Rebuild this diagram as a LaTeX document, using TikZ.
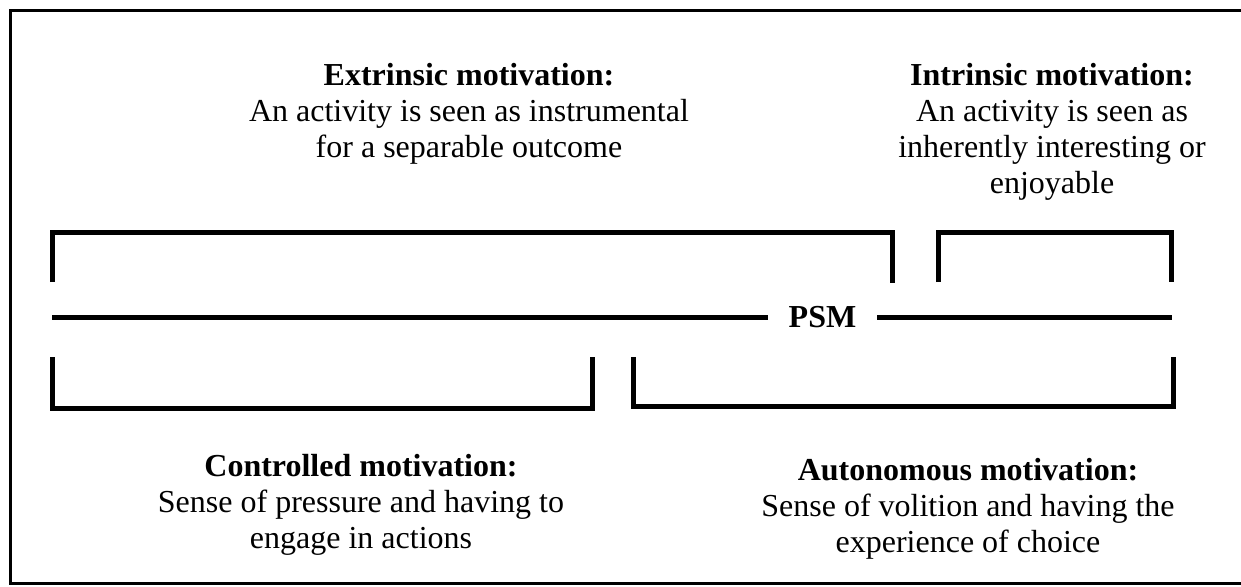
\documentclass[tikz,border=0pt]{standalone}
\usepackage{fontspec}
\setmainfont{Liberation Serif}
\usepackage{tikz}
\usetikzlibrary{positioning}
\tikzset{bar/.style = {line width = 2.5pt, line join = miter}}
\tikzset{frame/.style = {line width = 1.6pt, line join = miter}}
\tikzset{desc/.style = {align = center, inner sep = 0, anchor = base, font = \fontsize{16}{18}\selectfont}}
\tikzset{axis/.style = {inner xsep = 10.4pt, inner ysep = 0, font = \fontsize{16}{18}\selectfont\bfseries}}

\begin{document}
\begin{tikzpicture}[x = 0.5pt, y = -0.5pt]

    \useasboundingbox (0, 0) rectangle (1241, 586);
    \draw [frame] (1241, 10.5) -- (10.5, 10.5) -- (10.5, 583.5) -- (1241, 583.5);

    \node [desc] (extr) at (469, 157) {\textbf{Extrinsic motivation:}\\An activity is seen as instrumental\\for a separable outcome};
    \node [desc] (intr) at (1052, 193) {\textbf{Intrinsic motivation:}\\An activity is seen as\\inherently interesting or\\enjoyable};
    \node [desc] (ctrl) at (361, 548) {\textbf{Controlled motivation:}\\Sense of pressure and having to\\engage in actions};
    \node [desc] (auto) at (968, 552) {\textbf{Autonomous motivation:}\\Sense of volition and having the\\experience of choice};

    \coordinate (psmL) at (52, 317);
    \coordinate (psmR) at (1172, 317);
    \node [axis] (psm) at (822.5, 317) {PSM};

    \draw [bar] (psmL) -- (psm.west);
    \draw [bar] (psm.east) -- (psmR);

    \draw [bar] (52, 282) -- (52, 232) -- (892, 232) -- (892, 283);
    \draw [bar] (938, 282) -- (938, 232) -- (1171, 232) -- (1171, 282);
    \draw [bar] (52, 357) -- (52, 408) -- (592, 408) -- (592, 357);
    \draw [bar] (633, 357) -- (633, 406) -- (1173, 406) -- (1173, 357);
  \end{tikzpicture}
\end{document}
